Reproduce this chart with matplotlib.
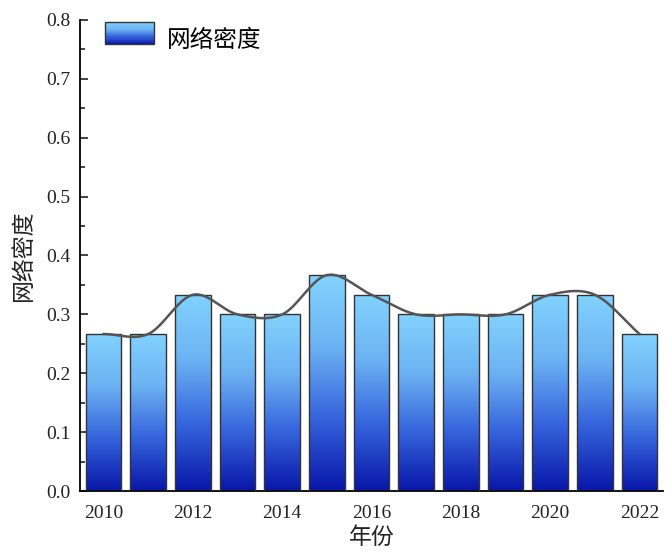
import numpy as np
import matplotlib
matplotlib.use("Agg")
import matplotlib.pyplot as plt
from matplotlib.colors import LinearSegmentedColormap
from matplotlib.patches import Rectangle
from matplotlib.legend_handler import HandlerBase

years = [2010, 2011, 2012, 2013, 2014, 2015, 2016, 2017, 2018, 2019, 2020, 2021, 2022]
density = [0.2667, 0.2667, 0.3333, 0.3, 0.3, 0.3667, 0.3333, 0.3, 0.3, 0.3, 0.3333, 0.3333, 0.2667]
year_ticks = [2010, 2012, 2014, 2016, 2018, 2020, 2022]

plt.rcParams['font.family'] = ['Noto Sans CJK SC', 'DejaVu Sans']
cmap = LinearSegmentedColormap.from_list('blu', ['#0816a8', '#3563dc', '#6cb2f3', '#82d3ff'])


def catmull_rom(x, y, per_seg=40):
    # smooth curve through the bar tops (Hermite with central-difference slopes)
    x = np.asarray(x, float)
    y = np.asarray(y, float)
    n = len(x)
    m = np.zeros(n)
    m[1:-1] = (y[2:] - y[:-2]) / (x[2:] - x[:-2])
    m[0] = (y[1] - y[0]) / (x[1] - x[0])
    m[-1] = (y[-1] - y[-2]) / (x[-1] - x[-2])
    xs, ys = [], []
    for i in range(n - 1):
        h = x[i + 1] - x[i]
        t = np.linspace(0, 1, per_seg, endpoint=(i == n - 2))
        h00 = 2 * t**3 - 3 * t**2 + 1
        h10 = t**3 - 2 * t**2 + t
        h01 = -2 * t**3 + 3 * t**2
        h11 = t**3 - t**2
        xs.append(x[i] + t * h)
        ys.append(h00 * y[i] + h10 * h * m[i] + h01 * y[i + 1] + h11 * h * m[i + 1])
    return np.concatenate(xs), np.concatenate(ys)


class GradientHandler(HandlerBase):
    def create_artists(self, legend, orig, xd, yd, width, height, fontsize, trans):
        arts = []
        n = 20
        for i in range(n):
            r = Rectangle((xd, yd + height * i / n), width, height / n + 0.3,
                          facecolor=cmap((i + 0.5) / n), edgecolor='none', transform=trans)
            arts.append(r)
        arts.append(Rectangle((xd, yd), width, height, facecolor='none',
                              edgecolor='#333333', lw=1.0, transform=trans))
        return arts


fig = plt.figure(figsize=(6.66, 5.53), dpi=100)
ax = fig.add_axes([0.12, 0.112, 0.875, 0.852])

grad = np.linspace(0, 1, 256).reshape(-1, 1)
bars = ax.bar(years, density, width=0.8, facecolor='none', edgecolor='#333333', lw=1.0, zorder=3)
for bar in bars:
    x0, w, h = bar.get_x(), bar.get_width(), bar.get_height()
    im = ax.imshow(grad, cmap=cmap, origin='lower', aspect='auto',
                   extent=[x0, x0 + w, 0, h], zorder=2)
    im.set_clip_path(bar)

cx, cy = catmull_rom(years, density)
ax.plot(cx, cy, color='#555555', lw=1.8, zorder=4)

ax.set_xlim(2009.47, 2022.52)
ax.set_ylim(0, 0.8)
ax.set_xticks(year_ticks)
ax.set_xticks(years, minor=True)
ax.set_yticks(np.arange(0, 0.81, 0.1))
ax.set_yticks(np.arange(0.05, 0.8, 0.1), minor=True)
ax.set_yticklabels([f'{v:.1f}' for v in np.arange(0, 0.81, 0.1)])
for lab in ax.get_xticklabels() + ax.get_yticklabels():
    lab.set_family('Liberation Serif')
    lab.set_fontsize(14)
ax.tick_params(direction='in', which='major', length=6, width=1.2, colors='#222222', labelcolor='#222222')
ax.tick_params(direction='in', which='minor', length=3.5, width=1.2, colors='#222222')
ax.tick_params(axis='x', pad=10)
ax.tick_params(axis='y', pad=7)
ax.spines['top'].set_visible(False)
ax.spines['right'].set_visible(False)
ax.spines['left'].set_linewidth(1.3)
ax.spines['bottom'].set_linewidth(1.3)

ax.set_xlabel('年份', fontsize=16.5, color='#222222')
ax.set_ylabel('网络密度', fontsize=16.5, color='#222222')
ax.xaxis.set_label_coords(0.5, -0.074)
ax.yaxis.set_label_coords(-0.077, 0.5)

ax.legend([bars], ['网络密度'], handler_map={type(bars): GradientHandler()},
          loc='upper left', bbox_to_anchor=(0.026, 1.003), frameon=False, fontsize=17,
          handlelength=2.1, handleheight=1.06, handletextpad=0.55, borderaxespad=0)

fig.savefig('out.png', dpi=100)
